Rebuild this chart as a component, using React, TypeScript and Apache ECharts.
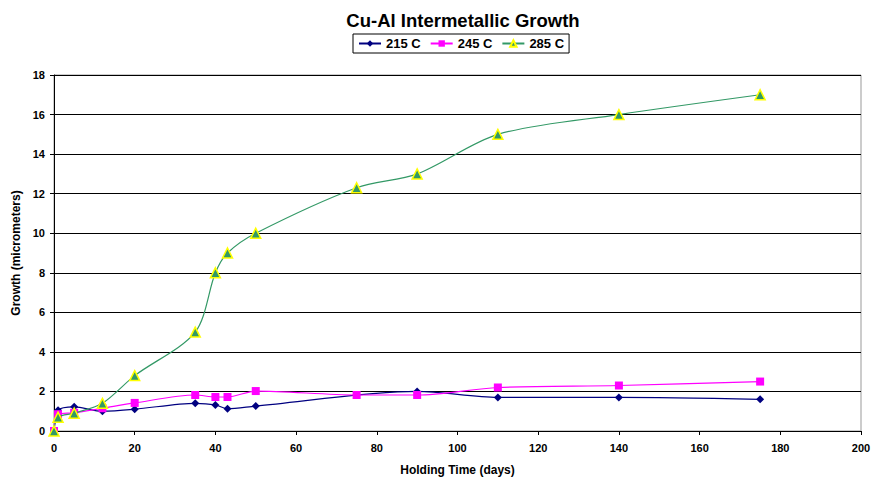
import React, { useEffect, useRef } from "react";
import * as echarts from "echarts";

const days215 = [0, 1, 5, 12, 20, 35, 40, 43, 50, 90, 110, 140, 175];
const growth215 = [0, 1.05, 1.22, 1.0, 1.1, 1.4, 1.32, 1.12, 1.26, 2.0, 1.7, 1.7, 1.6];

const days245 = [0, 1, 5, 12, 20, 35, 40, 43, 50, 75, 90, 110, 140, 175];
const growth245 = [0, 0.85, 0.92, 1.15, 1.42, 1.82, 1.72, 1.72, 2.02, 1.82, 1.82, 2.2, 2.3, 2.5];

const days285 = [0, 1, 5, 12, 20, 35, 40, 43, 50, 75, 90, 110, 140, 175];
const growth285 = [0, 0.7, 0.9, 1.4, 2.8, 5, 8, 9, 10, 12.3, 13, 15, 16, 17];

const seriesNames = ["215 C", "245 C", "285 C"];

const zip = (xs: number[], ys: number[]) => xs.map((x, i) => [x, ys[i]]);

export default function App() {
  const ref = useRef<HTMLDivElement>(null);
  useEffect(() => {
    if (!ref.current) return;
    const chart = echarts.init(ref.current, null, { renderer: "svg" });
    const font = "'Liberation Sans', Arial, sans-serif";
    chart.setOption({
      animation: false,
      backgroundColor: "#ffffff",
      title: {
        text: "Cu-Al Intermetallic Growth",
        left: 458,
        textAlign: "center",
        top: 6,
        textStyle: { fontFamily: font, fontWeight: "bold", fontSize: 18.5, color: "#000" },
      },
      legend: {
        top: 34,
        left: 353,
        borderColor: "#000",
        borderWidth: 1,
        padding: [3, 5, 3, 5],
        itemGap: 9,
        itemWidth: 22,
        itemHeight: 8,
        textStyle: { fontFamily: font, fontWeight: "bold", fontSize: 13, color: "#000" },
        data: seriesNames,
      },
      grid: {
        left: 54,
        right: 22,
        top: 75,
        bottom: 46,
        show: true,
        borderColor: "#999",
        borderWidth: 1,
      },
      xAxis: {
        type: "value",
        min: 0,
        max: 200,
        interval: 20,
        name: "Holding Time (days)",
        nameLocation: "middle",
        nameGap: 33,
        nameTextStyle: { fontFamily: font, fontWeight: "bold", fontSize: 12, color: "#000" },
        axisLine: { lineStyle: { color: "#000", width: 1 } },
        axisTick: { show: true, inside: false, length: 4, lineStyle: { color: "#000" } },
        axisLabel: { fontFamily: font, fontWeight: "bold", fontSize: 11, color: "#000", margin: 11 },
        splitLine: { show: false },
      },
      yAxis: {
        type: "value",
        min: 0,
        max: 18,
        interval: 2,
        name: "Growth (micrometers)",
        nameLocation: "middle",
        nameGap: 24,
        nameTextStyle: { fontFamily: font, fontWeight: "bold", fontSize: 12, color: "#000" },
        axisLine: { show: true, lineStyle: { color: "#000", width: 1 } },
        axisTick: { show: true, inside: false, length: 4, lineStyle: { color: "#000" } },
        axisLabel: { fontFamily: font, fontWeight: "bold", fontSize: 11, color: "#000", margin: 9 },
        splitLine: { show: true, lineStyle: { color: "#000", width: 1 } },
      },
      series: [
        {
          name: seriesNames[0],
          type: "line",
          smooth: 0.3,
          data: zip(days215, growth215),
          symbol: "diamond",
          symbolSize: 8,
          itemStyle: { color: "#000080" },
          lineStyle: { color: "#000080", width: 1.2 },
          z: 3,
        },
        {
          name: seriesNames[1],
          type: "line",
          smooth: 0.3,
          data: zip(days245, growth245),
          symbol: "rect",
          symbolSize: 8,
          itemStyle: { color: "#FF00FF" },
          lineStyle: { color: "#FF00FF", width: 1.2 },
          z: 4,
        },
        {
          name: seriesNames[2],
          type: "line",
          smooth: 0.3,
          data: zip(days285, growth285),
          symbol: "triangle",
          symbolSize: 10,
          itemStyle: { color: "#339966", borderColor: "#FFFF00", borderWidth: 1.5 },
          lineStyle: { color: "#339966", width: 1.2 },
          z: 5,
        },
      ],
    });
    return () => chart.dispose();
  }, []);
  return (
    <div
      ref={ref}
      style={{ position: "fixed", left: 0, top: 0, width: 883, height: 481 }}
    />
  );
}
